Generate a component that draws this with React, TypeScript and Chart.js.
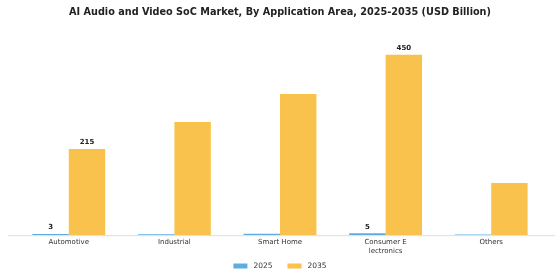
import React, { useEffect, useRef } from "react";
import { Chart, registerables } from "chart.js";

Chart.register(...registerables);

const categories: (string | string[])[] = [
  "Automotive",
  "Industrial",
  "Smart Home",
  ["Consumer E", "lectronics"],
  "Others",
];
const values2025 = [3, 2.5, 3.5, 5, 1.5];
const values2035 = [215, 282, 352, 450, 130];
const labeledIndices = [0, 3];
const yMax = 500;

const FONT = "'DejaVu Sans', sans-serif";

const valueLabels = {
  id: "valueLabels",
  afterDatasetsDraw(chart: any) {
    const ctx = chart.ctx;
    ctx.save();
    ctx.font = `bold 7px ${FONT}`;
    ctx.fillStyle = "#222";
    ctx.textAlign = "center";
    ctx.textBaseline = "bottom";
    chart.data.datasets.forEach((ds: any, di: number) => {
      const meta = chart.getDatasetMeta(di);
      labeledIndices.forEach((i) => {
        const el = meta.data[i];
        if (!el) return;
        ctx.fillText(String(ds.data[i]), el.x, el.y - 3);
      });
    });
    ctx.restore();
  },
};

const axisLine = {
  id: "axisLine",
  afterDatasetsDraw(chart: any) {
    const { ctx, chartArea } = chart;
    ctx.save();
    ctx.strokeStyle = "#dddddd";
    ctx.lineWidth = 1;
    ctx.beginPath();
    ctx.moveTo(chartArea.left - 8, chartArea.bottom + 0.5);
    ctx.lineTo(chartArea.right + 11, chartArea.bottom + 0.5);
    ctx.stroke();
    ctx.restore();
  },
};

const bottomLegend = {
  id: "bottomLegend",
  afterDraw(chart: any) {
    const ctx = chart.ctx;
    const boxW = 14;
    const boxH = 5;
    const gap = 6;
    const spacing = 15;
    ctx.save();
    ctx.font = `7.5px ${FONT}`;
    const items = chart.data.datasets.map((ds: any) => ({
      text: String(ds.label),
      color: ds.backgroundColor,
      w: ctx.measureText(String(ds.label)).width,
    }));
    const total =
      items.reduce((s: number, it: any) => s + boxW + gap + it.w, 0) +
      spacing * (items.length - 1);
    let x = chart.width / 2 - total / 2;
    const cy = chart.height - 14;
    ctx.textBaseline = "middle";
    ctx.textAlign = "left";
    items.forEach((it: any) => {
      ctx.fillStyle = it.color;
      ctx.fillRect(x, cy - boxH / 2, boxW, boxH);
      ctx.fillStyle = "#333";
      ctx.fillText(it.text, x + boxW + gap, cy);
      x += boxW + gap + it.w + spacing;
    });
    ctx.restore();
  },
};

export default function App() {
  const ref = useRef<HTMLCanvasElement>(null);
  useEffect(() => {
    if (!ref.current) return;
    const chart = new Chart(ref.current, {
      type: "bar",
      data: {
        labels: categories,
        datasets: [
          {
            label: "2025",
            data: values2025,
            backgroundColor: "#5DADE2",
            categoryPercentage: 0.69,
            barPercentage: 1,
          },
          {
            label: "2035",
            data: values2035,
            backgroundColor: "#F8C24C",
            categoryPercentage: 0.69,
            barPercentage: 1,
          },
        ],
      },
      options: {
        animation: false,
        responsive: false,
        maintainAspectRatio: false,
        layout: { padding: { left: 16, right: 16, top: 5, bottom: 22 } },
        plugins: {
          title: {
            display: true,
            text: "AI Audio and Video SoC Market, By Application Area, 2025-2035 (USD Billion)",
            font: { family: FONT, size: 9.7, weight: "bold" },
            color: "#222",
            padding: { top: 2, bottom: 16 },
          },
          legend: { display: false },
          tooltip: { enabled: false },
        },
        scales: {
          x: {
            grid: { display: false, drawTicks: false },
            border: { display: false },
            ticks: {
              font: { family: FONT, size: 7 },
              color: "#333",
              padding: 3,
              maxRotation: 0,
              autoSkip: false,
            },
          },
          y: {
            display: false,
            min: 0,
            max: yMax,
          },
        },
      },
      plugins: [valueLabels, axisLine, bottomLegend],
    });
    return () => chart.destroy();
  }, []);
  return (
    <div style={{ position: "fixed", left: 0, top: 0, width: 560, height: 280, background: "#fff" }}>
      <canvas ref={ref} width={560} height={280} />
    </div>
  );
}
